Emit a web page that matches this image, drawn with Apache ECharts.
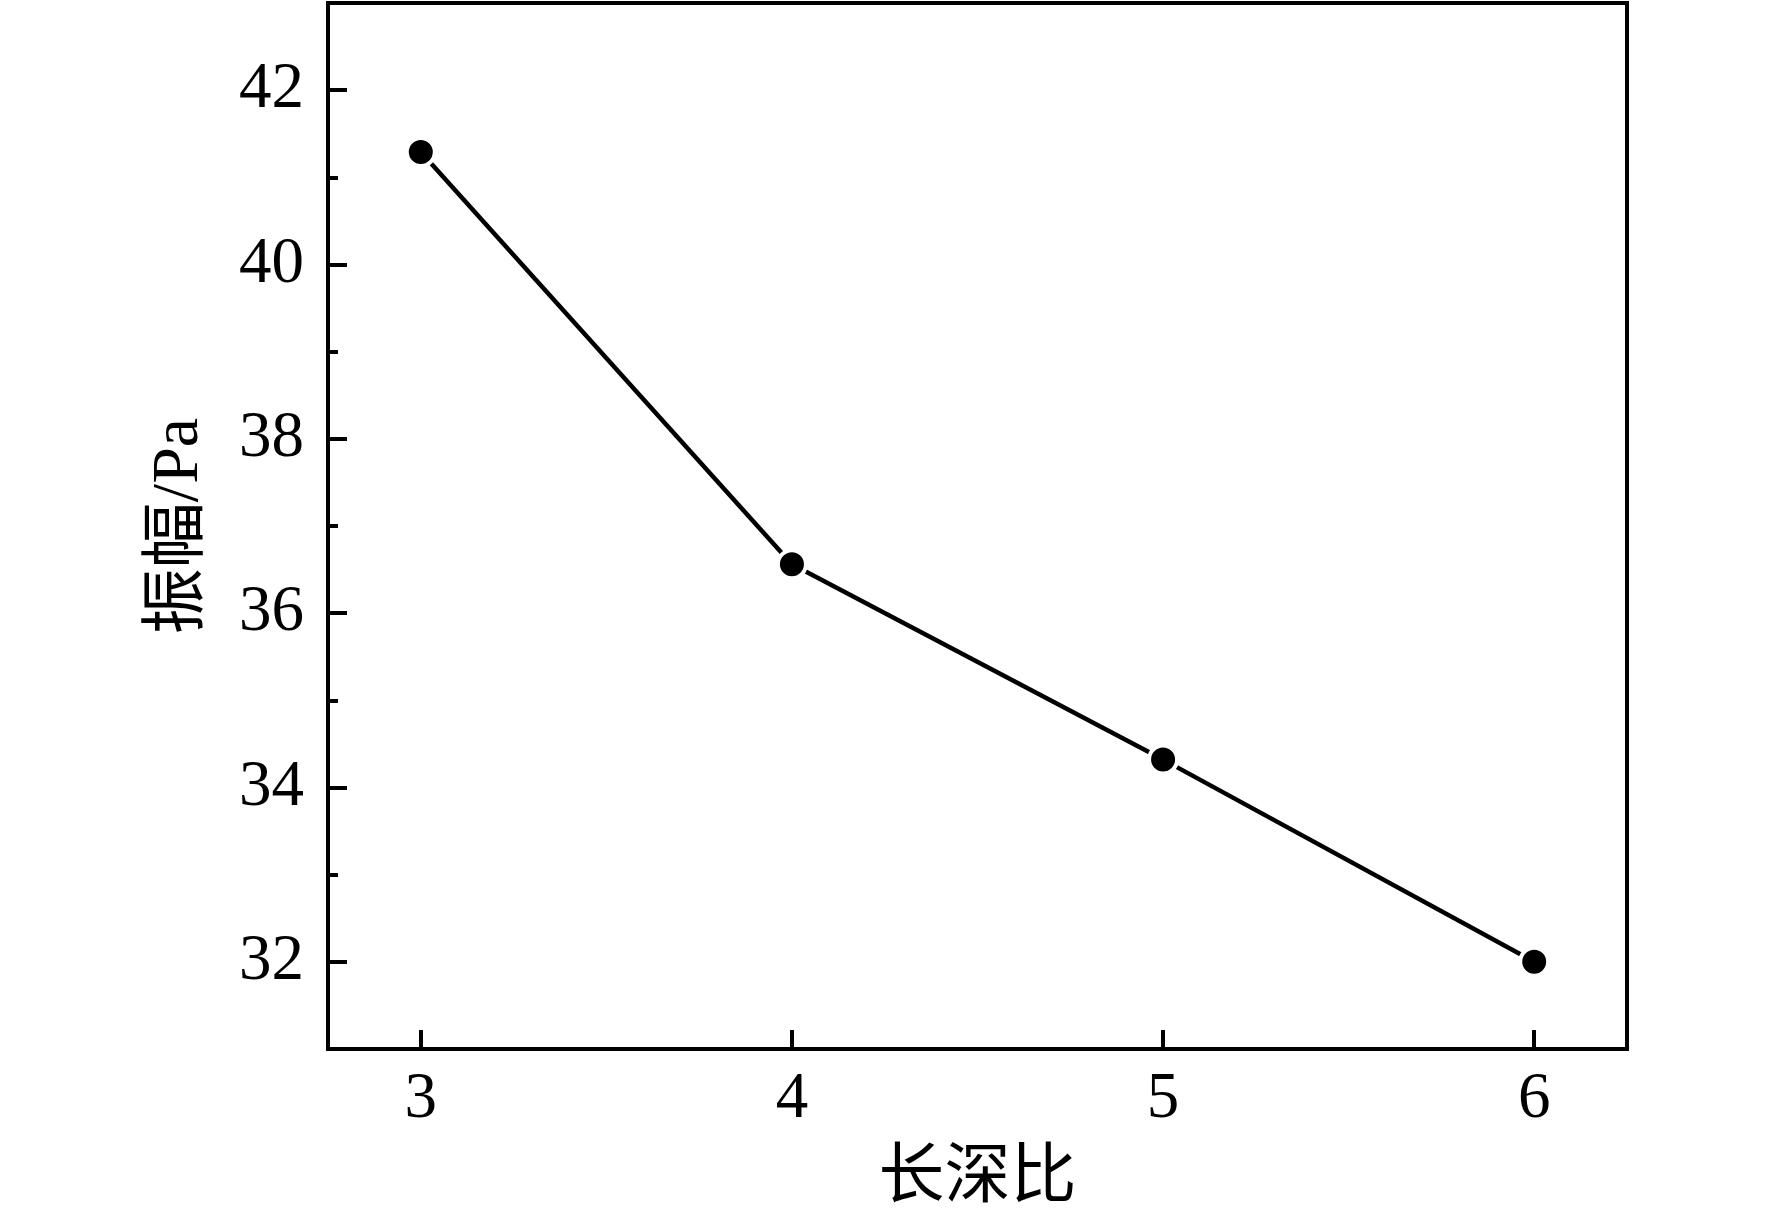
<!DOCTYPE html>
<html>
<head>
<meta charset="utf-8">
<script src="https://cdn.jsdelivr.net/npm/echarts@6/dist/echarts.min.js"></script>
<style>
html,body{margin:0;padding:0;background:#fff;}
#c{width:1772px;height:1225px;}
</style>
</head>
<body>
<div id="c"></div>
<script>
const xValues = [3, 4, 5, 6];
const amplitude = [41.29, 36.56, 34.32, 32.0];
const xTicks = [3, 4, 5, 6];
const yTicks = [32, 34, 36, 38, 40, 42];
const xTitle = '长深比';
const yTitle = '振幅/Pa';

const FONT = '"Liberation Serif", "Noto Sans CJK SC", serif';
const chart = echarts.init(document.getElementById('c'), null, {renderer: 'canvas'});
chart.setOption({
  backgroundColor: '#fff',
  animation: false,
  grid: {left: 328, right: 145, top: 3, bottom: 176, show: true, borderColor: '#000', borderWidth: 4, backgroundColor: 'transparent'},
  xAxis: {
    type: 'value', min: 2.75, max: 6.25,
    name: xTitle, nameLocation: 'middle', nameGap: 98,
    nameTextStyle: {fontFamily: FONT, fontSize: 66, color: '#000'},
    axisLine: {show: true, lineStyle: {color: '#000', width: 4}},
    axisTick: {show: true, inside: true, length: 19, lineStyle: {color: '#000', width: 4}, customValues: xTicks},
    axisLabel: {show: true, margin: 18, fontFamily: FONT, fontSize: 65, color: '#000', customValues: xTicks},
    splitLine: {show: false}
  },
  yAxis: [{
    type: 'value', min: 31, max: 43,
    name: yTitle, nameLocation: 'middle', nameGap: 115, nameRotate: 90,
    nameTextStyle: {fontFamily: FONT, fontSize: 66, color: '#000'},
    axisLine: {show: true, lineStyle: {color: '#000', width: 4}},
    axisTick: {show: true, inside: true, length: 19, lineStyle: {color: '#000', width: 4}, customValues: yTicks},
    axisLabel: {show: true, margin: 24, fontFamily: FONT, fontSize: 65, color: '#000', customValues: yTicks},
    splitLine: {show: false}
  }, {
    type: 'value', min: 31, max: 43, interval: 1, position: 'left',
    axisLine: {show: false},
    axisTick: {show: true, inside: true, length: 10, lineStyle: {color: '#000', width: 4}},
    axisLabel: {show: false},
    splitLine: {show: false}
  }],
  series: [{
    type: 'line',
    data: xValues.map((x, i) => [x, amplitude[i]]),
    yAxisIndex: 0,
    symbol: 'circle', symbolSize: 28,
    lineStyle: {color: '#000', width: 4.5},
    itemStyle: {color: '#000', borderColor: '#fff', borderWidth: 4},
    z: 3
  }]
});
</script>
</body>
</html>
